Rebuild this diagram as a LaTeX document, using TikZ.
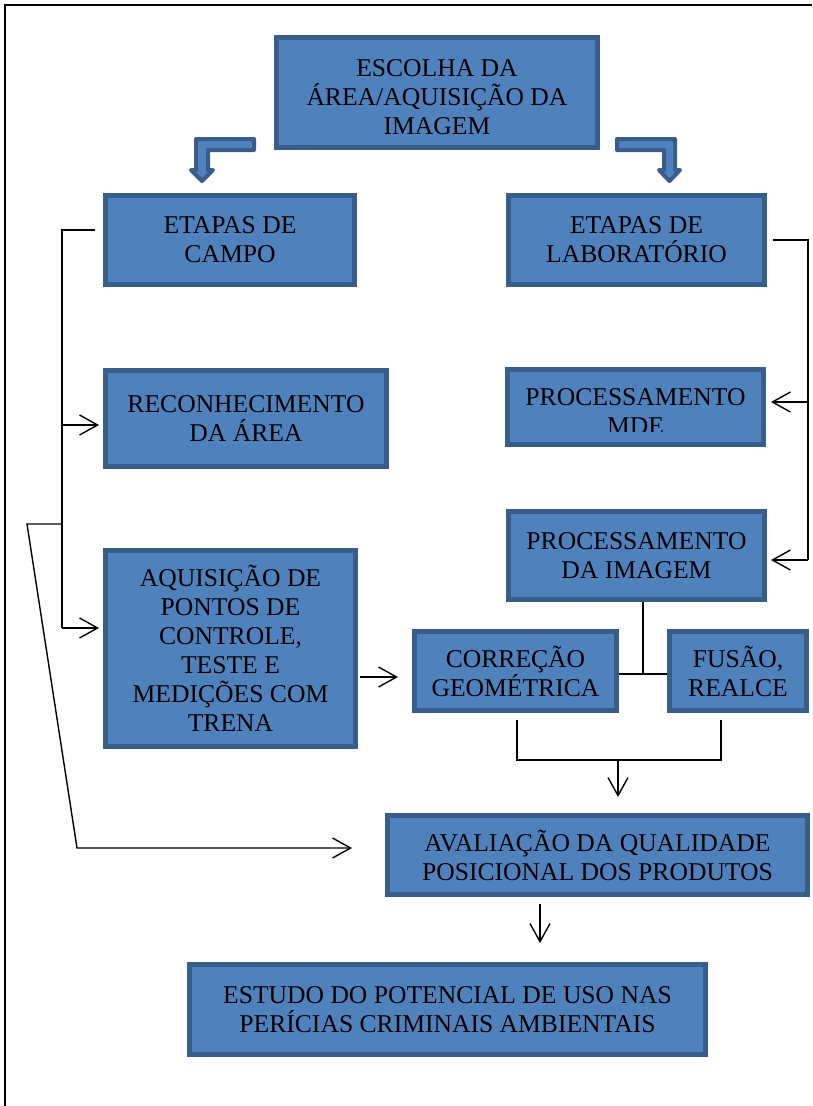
\documentclass[tikz,border=0pt]{standalone}
\usepackage{fontspec}
\setmainfont{Liberation Serif}
\usetikzlibrary{arrows.meta}

\definecolor{boxblue}{HTML}{4F81BD}
\definecolor{edgeblue}{HTML}{385D8A}

\begin{document}
\begin{tikzpicture}[x=1pt, y=-1pt, >={Straight Barb[length=18pt,width=20pt]},
  stage/.style={draw=edgeblue, fill=boxblue, line width=5pt, rectangle, align=center, inner sep=0pt, font=\fontsize{25.6}{29}\selectfont},
  link/.style={draw, line width=1.4pt},
  bent/.style={draw=edgeblue, fill=boxblue, line width=4pt, line join=round}]
  \useasboundingbox (0,0) rectangle (812,1106);
  \draw[line width=2pt] (812,5) -- (4.5,5) -- (4.5,1106);

  \node[stage, minimum width=321pt, minimum height=110pt] (escolha) at (437,92.5) {\rule{0pt}{27pt}ESCOLHA DA\\ÁREA/AQUISIÇÃO DA\\IMAGEM};
  \node[stage, minimum width=249pt, minimum height=89pt] (campo) at (230,240) {ETAPAS DE\\CAMPO};
  \node[stage, minimum width=256pt, minimum height=89pt] (lab) at (636.5,240) {ETAPAS DE\\LABORATÓRIO};
  \node[stage, minimum width=281pt, minimum height=96pt] (reconh) at (246,418.5) {RECONHECIMENTO\\DA ÁREA};
  \node[stage, minimum width=256pt, minimum height=75pt,
    path picture={
      \clip (path picture bounding box.north west) rectangle ([yshift=13pt]path picture bounding box.south east);
      \node[draw=none, fill=none, align=center, inner sep=0pt, font=\fontsize{25.6}{29}\selectfont] at ([yshift=-5pt]path picture bounding box.center) {PROCESSAMENTO\\MDE};
    }] (mde) at (635.5,407) {};
  \node[stage, minimum width=256pt, minimum height=88pt] (imagem) at (636.5,555.5) {PROCESSAMENTO\\DA IMAGEM};
  \node[stage, minimum width=250pt, minimum height=196pt] (aquis) at (230.5,648.5) {AQUISIÇÃO DE\\PONTOS DE\\CONTROLE,\\TESTE E\\MEDIÇÕES COM\\TRENA};
  \node[stage, minimum width=202pt, minimum height=79pt] (correcao) at (515.5,671) {CORREÇÃO\\GEOMÉTRICA};
  \node[stage, minimum width=137pt, minimum height=79pt] (fusao) at (738,671) {FUSÃO,\\REALCE};
  \node[stage, minimum width=420pt, minimum height=79pt] (avaliacao) at (597.5,855) {AVALIAÇÃO DA QUALIDADE\\POSICIONAL DOS PRODUTOS};
  \node[stage, minimum width=516pt, minimum height=90pt] (estudo) at (447.5,1009.5) {ESTUDO DO POTENCIAL DE USO NAS\\PERÍCIAS CRIMINAIS AMBIENTAIS};

  % bent block arrows under the first box
  \draw[bent] (254,139) -- (196,139) -- (196,170) -- (191,170) -- (202,181) -- (213,170) -- (208,170) -- (208,150) -- (254,150) -- cycle;
  \draw[bent] (617,139) -- (675,139) -- (675,170) -- (680,170) -- (669.5,181) -- (659,170) -- (664,170) -- (664,150) -- (617,150) -- cycle;

  % field side
  \draw[link] ([xshift=-8pt,yshift=10pt]campo.west) -| (62,628);
  \draw[link,->,shorten >=4pt] (62,425) -- (reconh.west |- 62,425);
  \draw[link,->,shorten >=4pt] (62,628) -- (aquis.west |- 62,628);
  \draw[link,->,shorten >=33pt] (62,524) -- (27,524) -- (77,848) -- (avaliacao.west |- 77,848);
  \draw[link,->,shorten <=2pt,shorten >=14pt] (aquis.east |- 0,677) -- (correcao.west |- 0,677);

  % lab side
  \draw[link] ([xshift=6pt]lab.east) -| (808,560);
  \draw[link,->,shorten >=5pt] (808,402) -- (mde.east |- 808,402);
  \draw[link,->,shorten >=4pt] (808,560) -- (imagem.east |- 808,560);

  \coordinate (join) at (643,674);
  \draw[link] (imagem.south -| join) -- (join);
  \draw[link] (correcao.east |- join) -- (fusao.west |- join);

  \coordinate (merge) at (618,760);
  \draw[link] (517,720) |- (merge) -| (721,720);
  \draw[link,->,shorten >=16pt] (merge) -- (avaliacao.north -| merge);
  \draw[link,->,shorten <=7pt,shorten >=19pt] (avaliacao.south -| 540,0) -- (estudo.north -| 540,0);
\end{tikzpicture}
\end{document}
